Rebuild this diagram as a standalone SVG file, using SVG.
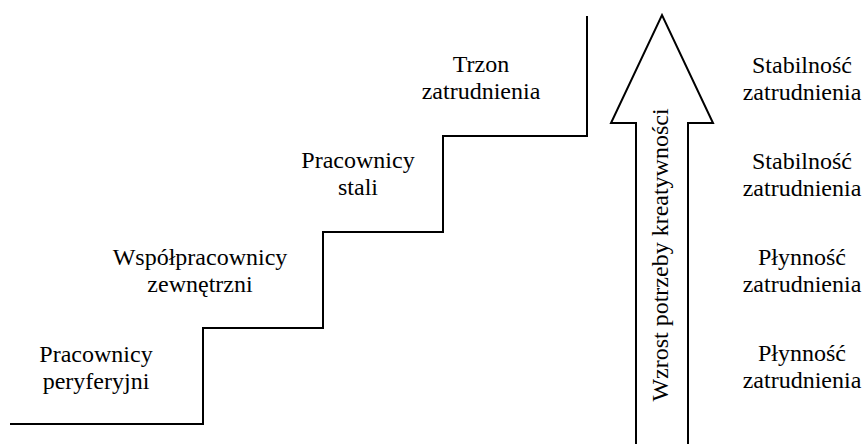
<svg xmlns="http://www.w3.org/2000/svg" width="864" height="444" viewBox="0 0 864 444">
<style>
text{font-family:'Liberation Serif','Times New Roman',Tinos,'DejaVu Serif',serif;font-size:24px;fill:#000;text-anchor:middle}
.ln{fill:none;stroke:#000;stroke-width:2}
</style>
<rect width="864" height="444" fill="#fff"/>
<g id="connectors">
<path id="stairs" class="ln" d="M10,424 H203 V328 H323 V232 H443 V136 H587 V16"/>
</g>
<g id="arrow">
<path class="ln" d="M636,444 V123 H611 L662,15 L713,123 H688 V444"/>
<text transform="translate(668,255) rotate(-90)" font-family="Liberation Serif, serif">Wzrost potrzeby kreatywności</text>
</g>
<g id="n1"><text x="96" y="362">Pracownicy</text><text x="96" y="389">peryferyjni</text></g>
<g id="n2"><text x="200" y="265">Współpracownicy</text><text x="200" y="292">zewnętrzni</text></g>
<g id="n3"><text x="358" y="168">Pracownicy</text><text x="358" y="195">stali</text></g>
<g id="n4"><text x="481" y="72">Trzon</text><text x="481" y="99">zatrudnienia</text></g>
<g id="r1"><text x="802" y="73">Stabilność</text><text x="802" y="100">zatrudnienia</text></g>
<g id="r2"><text x="802" y="169">Stabilność</text><text x="802" y="196">zatrudnienia</text></g>
<g id="r3"><text x="802" y="265">Płynność</text><text x="802" y="292">zatrudnienia</text></g>
<g id="r4"><text x="802" y="361">Płynność</text><text x="802" y="388">zatrudnienia</text></g>
</svg>
